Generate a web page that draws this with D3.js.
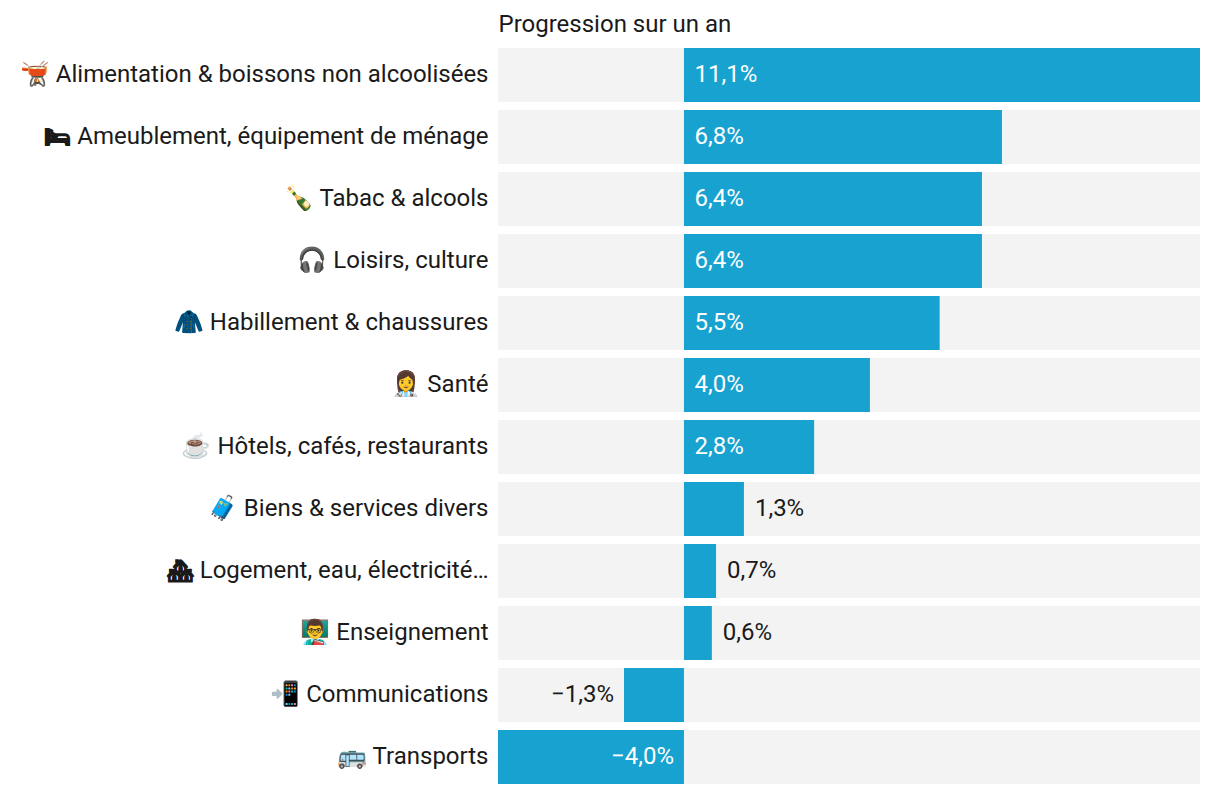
<!DOCTYPE html>
<html><head><meta charset="utf-8"><script src="https://cdnjs.cloudflare.com/ajax/libs/d3/7.8.5/d3.min.js"></script>
<style>html,body{margin:0;background:#fff}text{font-family:Roboto,sans-serif;font-size:24px}tspan.solid{font-family:"DejaVu Sans";font-weight:bold;font-size:21px;stroke:#1a1a1a;stroke-width:1.2px}</style></head><body><svg id="c" width="1220" height="794"></svg>
<script>
const categories=["🫕 Alimentation & boissons non alcoolisées","🛏 Ameublement, équipement de ménage","🍾 Tabac & alcools","🎧 Loisirs, culture","🧥 Habillement & chaussures","👩‍⚕️ Santé","☕ Hôtels, cafés, restaurants","🧳 Biens & services divers","🏘 Logement, eau, électricité…","👨‍🏫 Enseignement","📲 Communications","🚌 Transports"];
const solidIcons=["🛏","🏘"];
const values=[11.1,6.84,6.41,6.41,5.5,4.0,2.8,1.29,0.69,0.6,-1.29,-4.0];
const labels=["11,1%","6,8%","6,4%","6,4%","5,5%","4,0%","2,8%","1,3%","0,7%","0,6%","−1,3%","−4,0%"];
const title="Progression sur un an";
const svg=d3.select("#c");
const x=d3.scaleLinear().domain([-4,11.1]).range([498,1200]);
const y=d3.scaleBand().domain(categories).range([48,784]).paddingInner(8/62).paddingOuter(0);
svg.append("text").attr("x",498.5).attr("y",32).attr("fill","#1a1a1a").text(title);
const g=svg.selectAll("g.r").data(categories).join("g").attr("class","r");
g.append("rect").attr("x",x.range()[0]).attr("width",x.range()[1]-x.range()[0]).attr("y",d=>y(d)).attr("height",y.bandwidth()).attr("fill","#f3f3f3");
g.append("rect").attr("x",(d,i)=>x(Math.min(0,values[i]))).attr("width",(d,i)=>Math.abs(x(values[i])-x(0))).attr("y",d=>y(d)).attr("height",y.bandwidth()).attr("fill","#18a2cf");
const lab=g.append("text").attr("x",488.5).attr("y",d=>y(d)+y.bandwidth()/2+7).attr("text-anchor","end").attr("fill","#1a1a1a");
lab.append("tspan").attr("class",d=>solidIcons.includes(d.split(" ")[0])?"solid":null).text(d=>d.split(" ")[0]);
lab.append("tspan").text(d=>" "+d.split(" ").slice(1).join(" "));
g.append("text").attr("y",d=>y(d)+y.bandwidth()/2+7).attr("fill",(d,i)=>(Math.abs(values[i])>=2?"#fff":"#1a1a1a"))
 .attr("x",(d,i)=>{const v=values[i];return v>=0?(v>=2?x(0)+10.5:x(v)+11):(v<=-2?x(0)-10:x(v)-10)})
 .attr("text-anchor",(d,i)=>values[i]<0?"end":"start").text((d,i)=>labels[i]);
</script></body></html>
